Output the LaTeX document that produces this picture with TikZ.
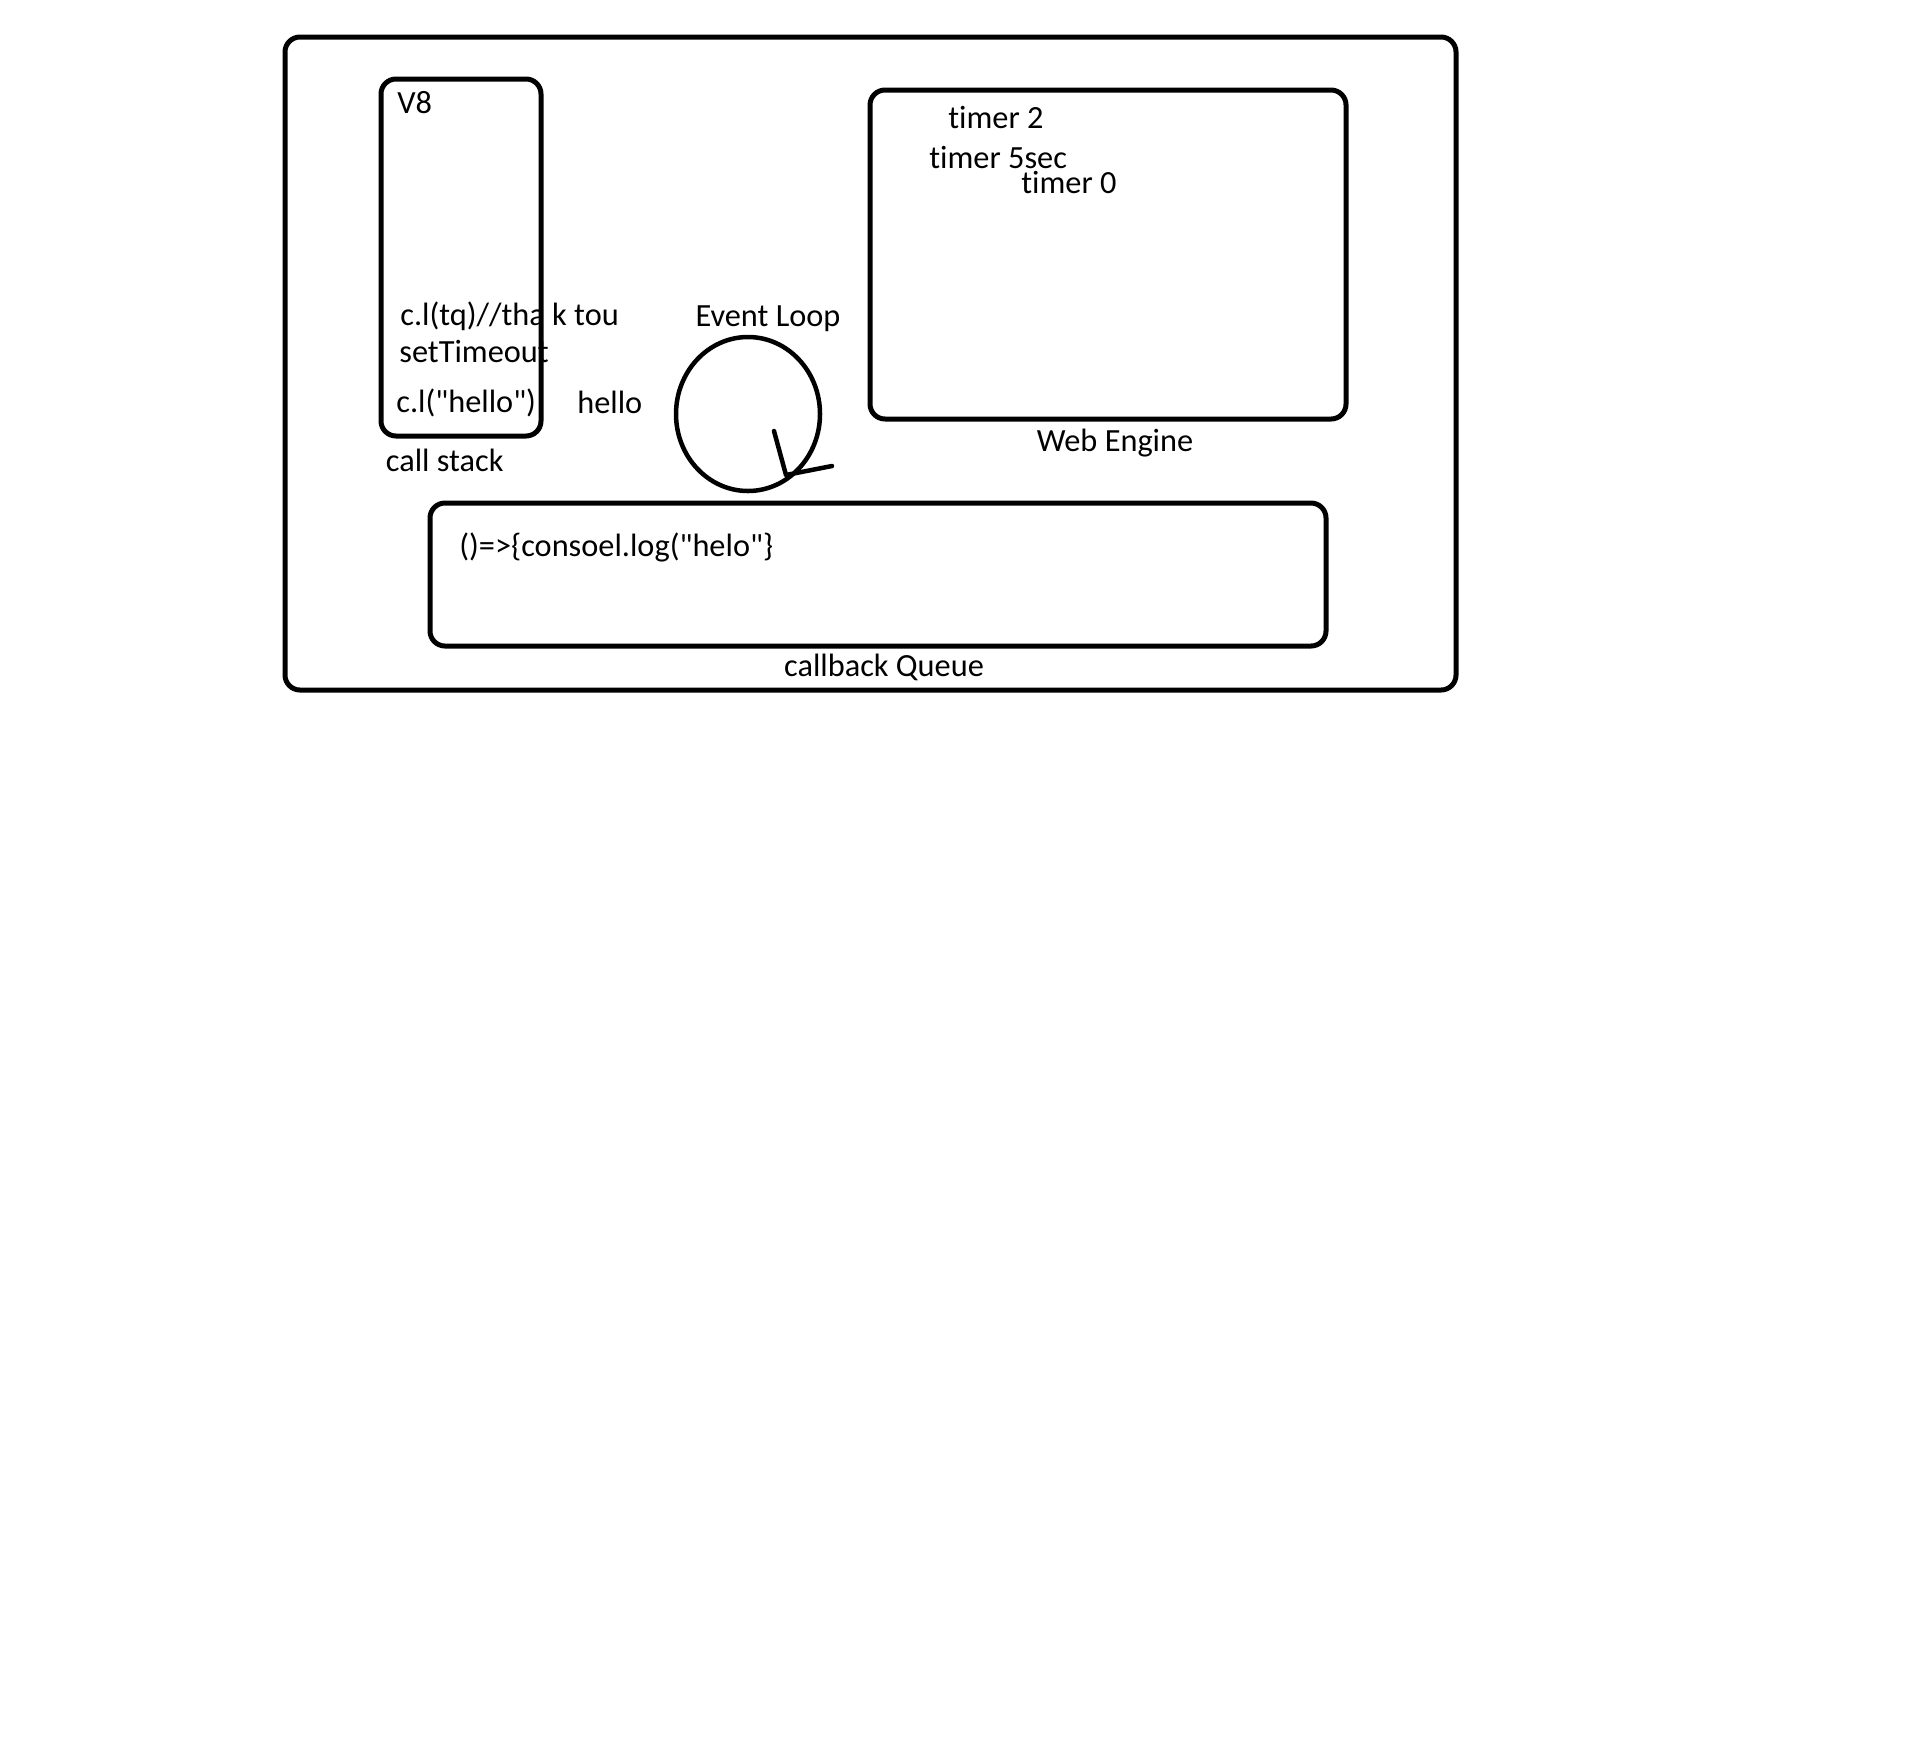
\documentclass[tikz,border=0pt]{standalone}
\usepackage{fontspec}
\setmainfont{Carlito}[Ligatures={TeXOff,CommonOff}]
\usepackage{tikz}
\usetikzlibrary{positioning,shapes.geometric}
\newcommand\lblfont{\fontsize{18.4pt}{22pt}\selectfont}
\tikzset{
    %Define style for boxes
    panel/.style={
      rectangle,
      rounded corners=0.3cm,
      draw=black, line width=0.1cm,
      inner sep=0pt},
    %Define style for the loop
    loopring/.style={
      ellipse,
      draw=black, line width=0.09cm,
      inner sep=0pt},
    % Define style for texts
    lbl/.style={
      inner sep=0pt,
      font=\lblfont,
      anchor=west},
    % Define style for the hand drawn tip
    tipline/.style={
      line width=0.09cm,
      line cap=round, line join=round}
}
\begin{document}
\begin{tikzpicture}[node distance=0.1cm]
    \useasboundingbox (0,0) rectangle (38.22,-35.06);

    \node[panel, minimum width=23.42cm, minimum height=13.06cm] (outer) at (17.41,-7.27) {};

    % call stack
    \node[panel, minimum width=3.2cm, minimum height=7.14cm] (v8) at (9.22,-5.15) {};
    \node[lbl] (v8name) at (7.94,-2.06) {V8};
    \node[lbl] (thanks) at (8.00,-6.32) {c.l(tq)//tha k tou};
    \node[lbl] (settime) at (7.98,-7.03) {setTimeout};
    \node[lbl] (clhello) at (7.92,-8.06) {c.l("hello")};
    \node[lbl] (hello) at (11.54,-8.05) {hello};
    \node[lbl, anchor=north west, below right=0.2cm and 0.14cm of v8.south west] (stackname) {call stack};

    % event loop
    \node[loopring, minimum width=2.88cm, minimum height=3.08cm] (loop) at (14.96,-8.28) {};
    \node[lbl, anchor=center] (loopname) at (15.36,-6.38) {Event Loop};
    \draw[tipline, shift={(loop.center)}] (0.52,-0.34) -- (0.76,-1.22) -- (1.68,-1.04);

    % web engine
    \node[panel, minimum width=9.52cm, minimum height=6.58cm] (web) at (22.16,-5.09) {};
    \node[lbl] (timer2) at (18.96,-2.34) {timer 2};
    \node[lbl] (timer5) at (18.58,-3.14) {timer 5sec};
    \node[lbl] (timer0) at (20.42,-3.64) {timer 0};
    \node[lbl, anchor=north, below=0.14cm of web, xshift=0.14cm] (webname) {Web Engine};

    % callback queue
    \node[panel, minimum width=17.92cm, minimum height=2.86cm] (queue) at (17.56,-11.49) {};
    \node[lbl] (cb) at (9.18,-10.94) {()=>\{consoel.log("helo"\}};
    \node[lbl, anchor=north, below=0.1cm of queue, xshift=0.12cm] (queuename) {callback Queue};
\end{tikzpicture}
\end{document}
